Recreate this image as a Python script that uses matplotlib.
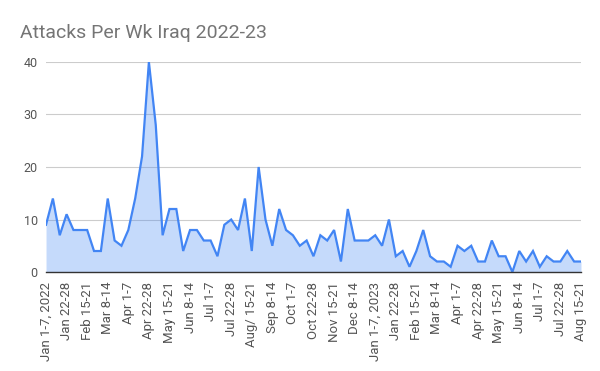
import matplotlib
matplotlib.use('Agg')
import matplotlib.pyplot as plt

plt.rcParams['font.family'] = ['Roboto', 'DejaVu Sans']

# weekly attack counts, Jan 1-7 2022 .. Aug 15-21 2023
attacks = [9, 14, 7, 11, 8, 8, 8, 4, 4, 14,
           6, 5, 8, 14, 22, 40, 28, 7, 12, 12,
           4, 8, 8, 6, 6, 3, 9, 10, 8, 14,
           4, 20, 10, 5, 12, 8, 7, 5, 6, 3,
           7, 6, 8, 2, 12, 6, 6, 6, 7, 5,
           10, 3, 4, 1, 4, 8, 3, 2, 2, 1,
           5, 4, 5, 2, 2, 6, 3, 3, 0, 4,
           2, 4, 1, 3, 2, 2, 4, 2, 2]

# only every 3rd week is labelled on the axis
week_labels = ['Jan 1-7, 2022', 'Jan 22-28', 'Feb 15-21', 'Mar 8-14', 'Apr 1-7',
               'Apr 22-28', 'May 15-21', 'Jun 8-14', 'Jul 1-7', 'Jul 22-28',
               'Aug/ 15-21', 'Sep 8-14', 'Oct 1-7', 'Oct 22-28', 'Nov 15-21',
               'Dec 8-14', 'Jan 1-7, 2023', 'Jan 22-28', 'Feb 15-21', 'Mar 8-14',
               'Apr 1-7', 'Apr 22-28', 'May 15-21', 'Jun 8-14', 'Jul 1-7',
               'Jul 22-28', 'Aug 15-21']
label_step = 3

x = list(range(len(attacks)))

fig = plt.figure(figsize=(6, 3.71), dpi=100)
ax = fig.add_axes([0.0767, 0.2668, 0.8916, 0.5661])

ax.fill_between(x, attacks, 0, color='#4285F4', alpha=0.3, linewidth=0)
ax.plot(x, attacks, color='#4285F4', linewidth=1.6, solid_joinstyle='miter')

ax.set_xlim(0, len(attacks) - 1)
ax.set_ylim(0, 40)
ax.set_yticks([0, 10, 20, 30, 40])
ax.set_xticks(x[::label_step])
ax.set_xticklabels(week_labels, rotation=90)

ax.grid(axis='y', color='#cccccc', linewidth=0.8)
ax.set_axisbelow(True)
for s in ['top', 'right', 'left']:
    ax.spines[s].set_visible(False)
ax.spines['bottom'].set_color('#333333')
ax.spines['bottom'].set_linewidth(1.0)
ax.spines['bottom'].set_zorder(3)

ax.tick_params(axis='both', length=0, labelcolor='#555555')
ax.tick_params(axis='y', pad=6, labelsize=9)
ax.tick_params(axis='x', pad=7, labelsize=9.5)

fig.text(0.033, 0.91, 'Attacks Per Wk Iraq 2022-23', fontsize=14, color='#757575',
         ha='left', va='center')

fig.savefig('out.png', dpi=100)
